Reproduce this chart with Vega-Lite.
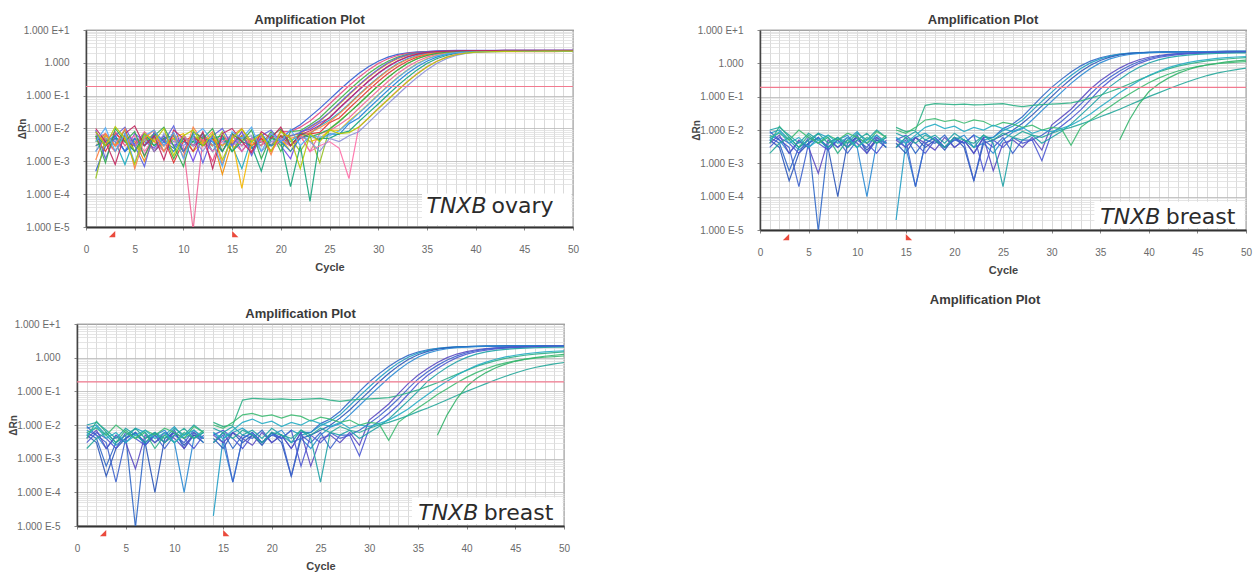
{
"$schema": "https://vega.github.io/schema/vega-lite/v6.json",
"padding": {"left": 0, "top": 13, "right": 0, "bottom": 0},
"background": "white",
"config": {
 "font": "Liberation Sans",
 "view": {"stroke": "#555", "strokeWidth": 1.2},
 "title": {"fontSize": 13, "fontWeight": "bold", "color": "#3a3a3a", "offset": -2, "frame": "group", "anchor": "middle", "font": "Liberation Sans"},
 "axis": {"labelFontSize": 10, "labelColor": "#6a6a6a", "labelFont": "Liberation Sans", "titleFont": "Liberation Sans", "titleColor": "#444", "titleFontWeight": "bold", "gridColor": "#d4d4d4", "gridWidth": 0.8, "domainColor": "#444", "domainWidth": 1.5, "tickColor": "#888", "tickSize": 3, "labelPadding": 14, "labelOverlap": false, "labelFlush": false, "labelBound": false}
},
"datasets": {
 "ovary": [
  {"s":"a1","c":[1,2,3,4,5,6,7,8,9,10,11,12,13,14,15,16,17,18,19,20,21,22,23,24,25,26,27,28,29,30,31,32,33,34,35,36,37,38,39,40,41,42,43,44,45,46,47,48,49,50],"v":[0.0005,0.003,0.006,0.002,0.0035,0.007,0.002,0.004,0.0025,0.006,0.003,0.0045,0.002,0.005,0.0035,0.006,0.0025,0.004,0.003,0.005,0.0086,0.013,0.023,0.041,0.077,0.146,0.27,0.47,0.76,1.12,1.49,1.8,2.01,2.15,2.21,2.25,2.28,2.3,2.31,2.3,2.32,2.31,2.32,2.33,2.32,2.33,2.33,2.34,2.33,2.34]},
  {"s":"a2","c":[1,2,3,4,5,6,7,8,9,10,11,12,13,14,15,16,17,18,19,20,21,22,23,24,25,26,27,28,29,30,31,32,33,34,35,36,37,38,39,40,41,42,43,44,45,46,47,48,49,50],"v":[0.006,0.004,0.008,0.003,0.005,0.0015,0.006,0.003,0.007,0.002,0.005,0.004,0.001,0.006,0.003,0.008,0.002,0.005,0.003,0.008,0.008,0.011,0.017,0.03,0.056,0.107,0.2,0.36,0.61,0.95,1.33,1.67,1.93,2.1,2.19,2.24,2.27,2.29,2.3,2.3,2.31,2.3,2.31,2.32,2.31,2.32,2.32,2.33,2.32,2.33]},
  {"s":"a3","c":[1,2,3,4,5,6,7,8,9,10,11,12,13,14,15,16,17,18,19,20,21,22,23,24,25,26,27,28,29,30,31,32,33,34,35,36,37,38,39,40,41,42,43,44,45,46,47,48,49,50],"v":[0.004,0.007,0.003,0.009,0.002,0.005,0.003,0.006,0.0012,0.005,0.004,0.007,0.003,0.005,0.002,0.006,0.004,0.003,0.008,0.002,0.008,0.0086,0.013,0.021,0.0405,0.077,0.146,0.27,0.47,0.76,1.12,1.49,1.8,2.01,2.15,2.21,2.25,2.28,2.29,2.3,2.3,2.31,2.31,2.32,2.32,2.32,2.33,2.33,2.33,2.34]},
  {"s":"a4","c":[1,2,3,4,5,6,7,8,9,10,11,12,13,14,15,16,17,18,19,20,21,22,23,24,25,26,27,28,29,30,31,32,33,34,35,36,37,38,39,40,41,42,43,44,45,46,47,48,49,50],"v":[0.003,0.005,0.002,0.006,0.004,0.001,0.005,0.003,0.007,0.002,0.006,0.003,0.005,0.0004,0.004,0.006,0.003,0.005,0.002,0.006,0.006,0.007,0.011,0.0166,0.03,0.056,0.107,0.2,0.36,0.61,0.95,1.33,1.67,1.93,2.1,2.19,2.24,2.27,2.29,2.3,2.31,2.31,2.32,2.33,2.32,2.33,2.34,2.34,2.35,2.35]},
  {"s":"a5","c":[1,2,3,4,5,6,7,8,9,10,11,12,13,14,15,16,17,18,19,20,21,22,23,24,25,26,27,28,29,30,31,32,33,34,35,36,37,38,39,40,41,42,43,44,45,46,47,48,49,50],"v":[0.008,0.003,0.005,0.002,0.007,0.004,0.0025,0.006,0.003,0.005,0.001,0.006,0.004,0.003,0.007,0.002,0.005,0.004,0.006,0.003,0.0012,0.008,0.0096,0.015,0.021,0.0405,0.077,0.146,0.27,0.47,0.76,1.12,1.49,1.8,2.01,2.15,2.21,2.25,2.28,2.29,2.3,2.3,2.31,2.31,2.32,2.32,2.33,2.33,2.33,2.34]},
  {"s":"a6","c":[1,2,3,4,5,6,7,8,9,10,11,12,13,14,15,16,17,18,19,20,21,22,23,24,25,26,27,28,29,30,31,32,33,34,35,36,37,38,39,40,41,42,43,44,45,46,47,48,49,50],"v":[0.002,0.006,0.004,0.0008,0.005,0.003,0.006,0.002,0.005,0.004,0.003,0.007,0.002,0.005,0.003,0.0006,0.005,0.004,0.003,0.006,0.004,0.007,0.007,0.012,0.018,0.03,0.056,0.107,0.2,0.36,0.61,0.95,1.33,1.67,1.93,2.1,2.19,2.24,2.27,2.29,2.3,2.3,2.31,2.32,2.32,2.33,2.33,2.34,2.34,2.34]},
  {"s":"a7","c":[1,2,3,4,5,6,7,8,9,10,11,12,13,14,15,16,17,18,19,20,21,22,23,24,25,26,27,28,29,30,31,32,33,34,35,36,37,38,39,40,41,42,43,44,45,46,47,48,49,50],"v":[0.005,0.002,0.007,0.004,0.003,0.006,0.002,0.005,0.0009,0.004,0.006,0.003,0.005,0.002,0.007,0.004,0.003,0.005,0.002,0.006,0.003,0.005,0.0069,0.0076,0.015,0.021,0.0405,0.077,0.146,0.27,0.47,0.76,1.12,1.49,1.8,2.01,2.15,2.21,2.25,2.28,2.29,2.3,2.3,2.31,2.31,2.32,2.32,2.33,2.33,2.34]},
  {"s":"a8","c":[1,2,3,4,5,6,7,8,9,10,11,12,13,14,15,16,17,18,19,20,21,22,23,24,25,26,27,28,29,30,31,32,33,34,35,36,37,38,39,40,41,42,43,44,45,46,47,48,49,50],"v":[0.0003,0.005,0.003,0.006,0.002,0.004,0.007,0.003,0.005,0.002,0.006,0.004,0.003,0.008,0.002,0.005,0.003,0.004,0.006,0.003,0.005,0.002,0.006,0.0009,0.0098,0.017,0.03,0.056,0.107,0.2,0.36,0.61,0.95,1.33,1.67,1.93,2.1,2.19,2.24,2.27,2.28,2.29,2.3,2.3,2.31,2.31,2.32,2.32,2.33,2.33]},
  {"s":"a9","c":[1,2,3,4,5,6,7,8,9,10,11,12,13,14,15,16,17,18,19,20,21,22,23,24,25,26,27,28,29,30,31,32,33,34,35,36,37,38,39,40,41,42,43,44,45,46,47,48,49,50],"v":[0.007,0.004,0.002,0.005,0.003,0.008,0.004,0.002,0.006,0.003,0.000008,0.005,0.003,0.006,0.004,0.002,0.005,0.003,0.007,0.004,0.003,0.006,0.002,0.0069,0.0086,0.013,0.021,0.0405,0.077,0.146,0.27,0.47,0.76,1.12,1.49,1.8,2.01,2.15,2.21,2.25,2.28,2.29,2.3,2.3,2.31,2.31,2.32,2.32,2.33,2.33]},
  {"s":"a10","c":[1,2,3,4,5,6,7,8,9,10,11,12,13,14,15,16,17,18,19,20,21,22,23,24,25,26,27,28,29,30,31,32,33,34,35,36,37,38,39,40,41,42,43,44,45,46,47,48,49,50],"v":[0.004,0.006,0.003,0.005,0.002,0.006,0.004,0.003,0.005,0.007,0.002,0.004,0.006,0.003,0.005,0.00015,0.004,0.006,0.003,0.005,0.002,0.006,0.004,0.005,0.009,0.0088,0.017,0.03,0.056,0.107,0.2,0.36,0.61,0.95,1.33,1.67,1.93,2.1,2.19,2.24,2.27,2.28,2.29,2.3,2.3,2.31,2.31,2.32,2.32,2.33]},
  {"s":"a11","c":[1,2,3,4,5,6,7,8,9,10,11,12,13,14,15,16,17,18,19,20,21,22,23,24,25,26,27,28,29,30,31,32,33,34,35,36,37,38,39,40,41,42,43,44,45,46,47,48,49,50],"v":[0.003,0.004,0.006,0.002,0.005,0.003,0.007,0.004,0.002,0.006,0.003,0.005,0.004,0.002,0.006,0.003,0.005,0.007,0.003,0.004,0.002,0.005,0.006,0.0045,0.0069,0.0066,0.014,0.021,0.0405,0.077,0.146,0.27,0.47,0.76,1.12,1.49,1.8,2.01,2.15,2.21,2.25,2.28,2.29,2.3,2.3,2.31,2.31,2.32,2.32,2.33]},
  {"s":"a12","c":[1,2,3,4,5,6,7,8,9,10,11,12,13,14,15,16,17,18,19,20,21,22,23,24,25,26,27,28,29,30,31,32,33,34,35,36,37,38,39,40,41,42,43,44,45,46,47,48,49,50],"v":[0.006,0.003,0.005,0.004,0.002,0.007,0.003,0.005,0.006,0.002,0.004,0.003,0.005,0.006,0.002,0.004,0.003,0.0005,0.005,0.004,0.00017,0.003,0.00006,0.005,0.005,0.007,0.0083,0.016,0.03,0.056,0.107,0.2,0.36,0.61,0.95,1.33,1.67,1.93,2.1,2.19,2.24,2.27,2.28,2.29,2.3,2.3,2.31,2.31,2.32,2.32]},
  {"s":"a13","c":[1,2,3,4,5,6,7,8,9,10,11,12,13,14,15,16,17,18,19,20,21,22,23,24,25,26,27,28,29,30,31,32,33,34,35,36,37,38,39,40,41,42,43,44,45,46,47,48,49,50],"v":[0.005,0.007,0.003,0.004,0.006,0.002,0.005,0.003,0.004,0.006,0.003,0.005,0.002,0.004,0.006,0.003,0.005,0.004,0.002,0.005,0.003,0.006,0.002,0.003,0.004,0.0025,0.0003,0.0109,0.021,0.0405,0.077,0.146,0.27,0.47,0.76,1.12,1.49,1.8,2.01,2.15,2.21,2.25,2.28,2.29,2.3,2.3,2.31,2.31,2.32,2.32]},
  {"s":"a14","c":[1,2,3,4,5,6,7,8,9,10,11,12,13,14,15,16,17,18,19,20,21,22,23,24,25,26,27,28,29,30,31,32,33,34,35,36,37,38,39,40,41,42,43,44,45,46,47,48,49,50],"v":[0.002,0.005,0.004,0.006,0.003,0.005,0.002,0.007,0.004,0.003,0.005,0.002,0.006,0.004,0.003,0.005,0.006,0.002,0.004,0.005,0.003,0.006,0.004,0.002,0.005,0.004,0.006,0.008,0.0151,0.0293,0.056,0.107,0.2,0.36,0.61,0.95,1.33,1.67,1.93,2.1,2.19,2.24,2.27,2.28,2.29,2.29,2.3,2.3,2.31,2.31]},
  {"s":"a15","c":[1,2,3,4,5,6,7,8,9,10,11,12,13,14,15,16,17,18,19,20,21,22,23,24,25,26,27,28,29,30,31,32,33,34,35,36,37,38,39,40,41,42,43,44,45,46,47,48,49,50],"v":[0.009,0.0012,0.006,0.011,0.003,0.0007,0.008,0.004,0.012,0.002,0.007,0.0009,0.006,0.01,0.003,0.008,0.0015,0.006,0.009,0.004,0.006,0.0075,0.0115,0.0175,0.031,0.059,0.112,0.21,0.38,0.64,1.0,1.4,1.75,2.03,2.2,2.3,2.35,2.38,2.4,2.41,2.42,2.42,2.43,2.43,2.44,2.44,2.44,2.45,2.45,2.45]},
  {"s":"a16","c":[1,2,3,4,5,6,7,8,9,10,11,12,13,14,15,16,17,18,19,20,21,22,23,24,25,26,27,28,29,30,31,32,33,34,35,36,37,38,39,40,41,42,43,44,45,46,47,48,49,50],"v":[0.0011,0.007,0.003,0.01,0.0006,0.005,0.009,0.002,0.007,0.0013,0.011,0.004,0.008,0.0008,0.006,0.01,0.003,0.007,0.0016,0.009,0.005,0.006,0.0075,0.0105,0.016,0.028,0.053,0.102,0.19,0.34,0.58,0.9,1.26,1.59,1.83,2.0,2.08,2.13,2.16,2.17,2.18,2.19,2.19,2.2,2.2,2.21,2.21,2.21,2.22,2.22]},
  {"s":"a17","c":[1,2,3,4,5,6,7,8,9,10,11,12,13,14,15,16,17,18,19,20,21,22,23,24,25,26,27,28,29,30,31,32,33,34,35,36,37,38,39,40,41,42,43,44,45,46,47,48,49,50],"v":[0.006,0.0009,0.01,0.004,0.008,0.0014,0.006,0.011,0.003,0.0007,0.008,0.005,0.01,0.002,0.007,0.004,0.009,0.0012,0.006,0.0095,0.003,0.007,0.0055,0.007,0.0095,0.016,0.03,0.056,0.107,0.2,0.36,0.61,0.95,1.33,1.67,1.93,2.1,2.19,2.24,2.27,2.28,2.29,2.3,2.3,2.31,2.31,2.32,2.32,2.32,2.33]},
  {"s":"a18","c":[1,2,3,4,5,6,7,8,9,10,11,12,13,14,15,16,17,18,19,20,21,22,23,24,25,26,27,28,29,30,31,32,33,34,35,36,37,38,39,40,41,42,43,44,45,46,47,48,49,50],"v":[0.01,0.004,0.0008,0.007,0.012,0.003,0.006,0.0011,0.009,0.005,0.002,0.008,0.0006,0.007,0.01,0.004,0.0018,0.008,0.005,0.011,0.003,0.0065,0.0085,0.0125,0.0216,0.042,0.079,0.15,0.28,0.48,0.78,1.15,1.53,1.85,2.07,2.21,2.28,2.32,2.35,2.36,2.37,2.37,2.38,2.38,2.39,2.39,2.4,2.4,2.4,2.41]},
  {"s":"a19","c":[1,2,3,4,5,6,7,8,9,10,11,12,13,14,15,16,17,18,19,20,21,22,23,24,25,26,27,28,29,30,31,32,33,34,35,36,37,38,39,40,41,42,43,44,45,46,47,48,49,50],"v":[0.004,0.0105,0.002,0.007,0.0009,0.006,0.009,0.003,0.0075,0.0012,0.006,0.01,0.004,0.0007,0.008,0.005,0.011,0.002,0.007,0.004,0.0095,0.003,0.006,0.0055,0.006,0.0085,0.0155,0.029,0.054,0.104,0.194,0.35,0.59,0.92,1.29,1.62,1.87,2.04,2.12,2.17,2.2,2.21,2.22,2.22,2.23,2.23,2.24,2.24,2.24,2.25]},
  {"s":"a20","c":[1,2,3,4,5,6,7,8,9,10,11,12,13,14,15,16,17,18,19,20,21,22,23,24,25,26,27,28,29,30,31,32,33,34,35,36,37,38,39,40,41,42,43,44,45,46,47,48,49,50],"v":[0.008,0.003,0.0115,0.005,0.0008,0.007,0.004,0.01,0.0015,0.006,0.009,0.003,0.007,0.0011,0.005,0.0095,0.004,0.007,0.002,0.008,0.005,0.0006,0.007,0.004,0.009,0.007,0.0075,0.011,0.0205,0.04,0.075,0.143,0.265,0.46,0.745,1.1,1.46,1.76,1.97,2.11,2.17,2.2,2.23,2.24,2.25,2.25,2.26,2.26,2.26,2.27]}
 ],
 "breast": [
  {"s":"b1","g":"b1a","c":[1,2,3,4,5,6,7,8,9,10,11,12,13],"v":[0.006,0.004,0.0006,0.003,0.005,0.000009,0.004,0.006,0.003,0.007,0.002,0.005,0.004]},
  {"s":"b1","g":"b1b","c":[14,15,16,17,18,19,20,21,22,23,24,25,26,27,28,29,30,31,32,33,34,35,36,37,38,39,40,41,42,43,44,45,46,47,48,49,50],"v":[0.003,0.006,0.002,0.005,0.004,0.007,0.003,0.005,0.002,0.006,0.006,0.011,0.0151,0.025,0.05,0.1,0.19,0.33,0.55,0.84,1.17,1.47,1.72,1.9,2.02,2.1,2.15,2.18,2.2,2.22,2.23,2.24,2.25,2.26,2.27,2.27,2.28]},
  {"s":"b2","g":"b2a","c":[1,2,3,4,5,6,7,8,9,10,11,12,13],"v":[0.008,0.01,0.005,0.0025,0.004,0.008,0.006,0.003,0.005,0.009,0.004,0.006,0.003]},
  {"s":"b2","g":"b2b","c":[14,15,16,17,18,19,20,21,22,23,24,25,26,27,28,29,30,31,32,33,34,35,36,37,38,39,40,41,42,43,44,45,46,47,48,49,50],"v":[0.00002,0.004,0.006,0.008,0.005,0.003,0.006,0.004,0.007,0.005,0.006,0.0096,0.013,0.02,0.038,0.072,0.135,0.25,0.43,0.7,1.03,1.36,1.65,1.86,2.0,2.08,2.14,2.18,2.2,2.22,2.24,2.25,2.26,2.27,2.28,2.29,2.29]},
  {"s":"b3","g":"b3a","c":[1,2,3,4,5,6,7,8,9,10,11,12,13],"v":[0.005,0.003,0.0003,0.002,0.004,0.006,0.003,0.0001,0.004,0.006,0.0025,0.005,0.003]},
  {"s":"b3","g":"b3b","c":[14,15,16,17,18,19,20,21,22,23,24,25,26,27,28,29,30,31,32,33,34,35,36,37,38,39,40,41,42,43,44,45,46,47,48,49,50],"v":[0.004,0.002,0.006,0.003,0.005,0.0025,0.006,0.003,0.0003,0.004,0.005,0.007,0.0098,0.016,0.028,0.053,0.1,0.19,0.34,0.57,0.88,1.22,1.53,1.78,1.95,2.06,2.13,2.17,2.2,2.21,2.23,2.24,2.25,2.26,2.27,2.27,2.28]},
  {"s":"b4","g":"b4a","c":[1,2,3,4,5,6,7,8,9,10,11,12,13],"v":[0.007,0.005,0.002,0.0045,0.003,0.006,0.0025,0.005,0.007,0.003,0.0001,0.004,0.006]},
  {"s":"b4","g":"b4b","c":[14,15,16,17,18,19,20,21,22,23,24,25,26,27,28,29,30,31,32,33,34,35,36,37,38,39,40,41,42,43,44,45,46,47,48,49,50],"v":[0.006,0.003,0.0002,0.004,0.006,0.003,0.005,0.007,0.003,0.004,0.002,0.005,0.0086,0.011,0.02,0.038,0.072,0.135,0.25,0.43,0.7,1.03,1.36,1.63,1.84,1.98,2.07,2.13,2.17,2.2,2.22,2.23,2.24,2.25,2.26,2.27,2.27]},
  {"s":"b5","g":"b5a","c":[1,2,3,4,5,6,7,8,9,10,11,12,13],"v":[0.004,0.007,0.002,0.005,0.003,0.0005,0.005,0.003,0.006,0.004,0.002,0.006,0.004]},
  {"s":"b5","g":"b5b","c":[14,15,16,17,18,19,20,21,22,23,24,25,26,27,28,29,30,31,32,33,34,35,36,37,38,39,40,41,42,43,44,45,46,47,48,49,50],"v":[0.005,0.003,0.006,0.004,0.0025,0.006,0.003,0.005,0.002,0.006,0.0006,0.004,0.005,0.003,0.006,0.0025,0.014,0.024,0.042,0.085,0.17,0.3,0.48,0.72,1.0,1.28,1.52,1.72,1.86,1.96,2.03,2.08,2.12,2.15,2.17,2.19,2.2]},
  {"s":"b6","g":"b6a","c":[1,2,3,4,5,6,7,8,9,10,11,12,13],"v":[0.009,0.005,0.003,0.0002,0.004,0.006,0.003,0.005,0.002,0.005,0.003,0.007,0.004]},
  {"s":"b6","g":"b6b","c":[14,15,16,17,18,19,20,21,22,23,24,25,26,27,28,29,30,31,32,33,34,35,36,37,38,39,40,41,42,43,44,45,46,47,48,49,50],"v":[0.003,0.005,0.0002,0.004,0.006,0.003,0.005,0.004,0.0003,0.005,0.003,0.006,0.002,0.005,0.005,0.007,0.011,0.018,0.032,0.06,0.12,0.23,0.38,0.59,0.85,1.13,1.4,1.62,1.79,1.91,2.0,2.06,2.1,2.14,2.16,2.18,2.19]},
  {"s":"b7","g":"b7a","c":[1,2,3,4,5,6,7,8,9,10,11,12,13],"v":[0.003,0.006,0.004,0.002,0.006,0.004,0.0025,0.005,0.003,0.006,0.004,0.002,0.005]},
  {"s":"b7","g":"b7b","c":[14,15,16,17,18,19,20,21,22,23,24,25,26,27,28,29,30,31,32,33,34,35,36,37,38,39,40,41,42,43,44,45,46,47,48,49,50],"v":[0.005,0.007,0.004,0.002,0.005,0.003,0.006,0.004,0.007,0.0006,0.005,0.003,0.006,0.004,0.005,0.0012,0.008,0.013,0.022,0.04,0.082,0.17,0.3,0.48,0.72,1.0,1.27,1.5,1.68,1.82,1.92,1.99,2.04,2.08,2.11,2.13,2.15]},
  {"s":"b8","g":"b8a","c":[1,2,3,4,5,6,7,8,9,10,11,12,13],"v":[0.01,0.012,0.007,0.004,0.008,0.005,0.003,0.006,0.004,0.008,0.005,0.01,0.006]},
  {"s":"b8","g":"b8b","c":[14,15,16,17,18,19,20,21,22,23,24,25,26,27,28,29,30,31,32,33,34,35,36,37,38,39,40,41,42,43,44,45,46,47,48,49,50],"v":[0.008,0.006,0.009,0.005,0.007,0.004,0.008,0.005,0.003,0.007,0.004,0.0002,0.006,0.005,0.007,0.004,0.006,0.009,0.015,0.028,0.052,0.1,0.2,0.33,0.52,0.76,1.02,1.27,1.48,1.64,1.76,1.85,1.92,1.97,2.01,2.04,2.06]},
  {"s":"b9","g":"b9a","c":[1,2,3,4,5,6,7,8,9,10,11,12,13],"v":[0.004,0.013,0.006,0.003,0.007,0.004,0.006,0.002,0.005,0.003,0.006,0.004,0.007]},
  {"s":"b9","g":"b9b","c":[14,15,16,17,18,19,20,21,22,23,24,25,26,27,28,29,30,31,32,33,34,35,36,37,38,39,40,41,42,43,44,45,46,47,48,49,50],"v":[0.012,0.009,0.01,0.055,0.062,0.06,0.058,0.06,0.057,0.058,0.06,0.062,0.055,0.05,0.055,0.058,0.06,0.062,0.065,0.075,0.09,0.11,0.14,0.18,0.24,0.32,0.42,0.55,0.68,0.82,0.95,1.07,1.18,1.27,1.35,1.42,1.48]},
  {"s":"b10","g":"b10a","c":[1,2,3,4,5,6,7,8,9,10,11,12,13],"v":[0.006,0.008,0.005,0.01,0.006,0.004,0.007,0.005,0.008,0.006,0.004,0.009,0.006]},
  {"s":"b10","g":"b10b","c":[14,15,16,17,18,19,20,21,22,23,24,25,26,27,28,29,30,31,32,33,34,35,36,37,38,39,40,41,42,43,44,45,46,47,48,49,50],"v":[0.01,0.008,0.012,0.02,0.022,0.018,0.02,0.016,0.02,0.018,0.013,0.017,0.015,0.012,0.014,0.01,0.012,0.011,0.0035,0.012,0.02,0.032,0.05,0.08,0.12,0.18,0.26,0.36,0.47,0.59,0.7,0.8,0.89,0.97,1.03,1.08,1.12]},
  {"s":"b11","g":"b11a","c":[1,2,3,4,5,6,7,8,9,10,11,12,13],"v":[0.002,0.004,0.006,0.003,0.005,0.008,0.004,0.006,0.003,0.005,0.008,0.004,0.006]},
  {"s":"b11","g":"b11b","c":[14,15,16,17,18,19,20,21,22,23,24,25,26,27,28,29,30,31,32,33,34,35,36,37,38,39,40,41,42,43,44,45,46,47,48,49,50],"v":[0.003,0.006,0.004,0.007,0.005,0.003,0.006,0.005,0.004,0.007,0.005,0.008,0.006,0.009,0.007,0.006,0.008,0.01,0.012,0.015,0.019,0.025,0.032,0.042,0.056,0.075,0.1,0.13,0.17,0.22,0.28,0.35,0.43,0.51,0.58,0.65,0.72]},
  {"s":"b12","g":"b12b","c":[37,38,39,40,41,42,43,44,45,46,47,48,49,50],"v":[0.005,0.02,0.06,0.14,0.24,0.36,0.5,0.64,0.78,0.9,1.0,1.1,1.18,1.25]},
  {"s":"b13","g":"b13a","c":[1,2,3,4,5,6,7,8,9,10,11,12,13],"v":[0.005,0.009,0.004,0.006,0.003,0.005,0.007,0.004,0.006,0.003,0.005,0.007,0.004]},
  {"s":"b13","g":"b13b","c":[14,15,16,17,18,19,20,21,22,23,24,25,26,27,28,29,30,31,32,33,34,35,36,37,38,39,40,41,42,43,44,45,46,47,48,49,50],"v":[0.006,0.004,0.007,0.012,0.015,0.011,0.013,0.009,0.012,0.01,0.014,0.011,0.009,0.012,0.008,0.01,0.009,0.011,0.014,0.02,0.03,0.05,0.08,0.13,0.2,0.3,0.43,0.58,0.74,0.9,1.05,1.18,1.3,1.4,1.48,1.55,1.6]}
 ],
 "baseline": [{"c": 3, "m": "start"}, {"c": 15, "m": "end"}]
},
"spacing": 18,
"vconcat": [
 {"spacing": 110, "hconcat": [
  {"spacing": 0, "hconcat": [
   {"width": 13, "height": 10, "data": {"values": [{}]}, "mark": {"type": "point", "opacity": 0}, "view": {"stroke": null}},
   {"width": 487, "height": 197, "title": {"text": "Amplification Plot", "dx": -20},
    "resolve": {"axis": {"x": "independent"}},
    "layer": [
     {"data": {"name": "ovary"}, "transform": [{"flatten": ["c", "v"]}],
      "mark": {"type": "line", "strokeWidth": 1.2, "clip": true, "opacity": 0.9},
      "encoding": {
       "x": {"field": "c", "type": "quantitative", "scale": {"domain": [0, 50], "nice": false, "zero": false},
        "axis": {"values": [0,5,10,15,20,25,30,35,40,45,50], "orient": "bottom", "labelOverlap": false, "title": "Cycle", "titleFontSize": 11, "titlePadding": 7, "grid": false, "domainWidth": 2, "domainColor": "#333"}},
       "y": {"field": "v", "type": "quantitative", "scale": {"type": "log", "domain": [0.00001, 10], "nice": false},
        "axis": {"values": [0.00001,0.00002,0.00003,0.00004,0.00005,0.00006,0.00007,0.00008,0.00009,0.0001,0.0002,0.0003,0.0004,0.0005,0.0006,0.0007,0.0008,0.0009,0.001,0.002,0.003,0.004,0.005,0.006,0.007,0.008,0.009,0.01,0.02,0.03,0.04,0.05,0.06,0.07,0.08,0.09,0.1,0.2,0.3,0.4,0.5,0.6,0.7,0.8,0.9,1,2,3,4,5,6,7,8,9,10], "labelExpr": "abs(log(datum.value)/LN10 - round(log(datum.value)/LN10)) > 0.001 ? '' : round(log(datum.value)/LN10) === 0 ? '1.000' : '1.000 E' + (round(log(datum.value)/LN10) > 0 ? '+' : '') + round(log(datum.value)/LN10)", "labelOverlap": false, "title": "ΔRn", "titleFontSize": 10, "titlePadding": -4, "grid": true, "gridColor": {"condition": {"test": "abs(log(datum.value)/LN10 - round(log(datum.value)/LN10)) < 0.001", "value": "#b8b8b8"}, "value": "#dedede"}, "tickOpacity": {"condition": {"test": "abs(log(datum.value)/LN10 - round(log(datum.value)/LN10)) < 0.001", "value": 1}, "value": 0}}},
       "color": {"field": "s", "type": "nominal", "legend": null, "scale": {"domain": ["a1","a2","a3","a4","a5","a6","a7","a8","a9","a10","a11","a12","a13","a14","a15","a16","a17","a18","a19","a20","b1","b2","b3","b4","b5","b6","b7","b8","b9","b10","b11","b12","b13"], "range": ["#2f5bd3","#e8457f","#3cb043","#f08c00","#7048e8","#15aabf","#e03131","#94c11f","#f06595","#f5b700","#1c7ed6","#12a37a","#ff6ba6","#8a8fd8","#5c5fe0","#ff7f3f","#2fa84f","#c2255c","#4dabf7","#b5c900","#2f67c6","#1f9cc4","#2b55b8","#2a8ad4","#5a4ac2","#3d63cc","#4b56d2","#1fa2a6","#2eb086","#3dba72","#25a79a","#33b36a","#27adc4"]}}
      }},
     {"data": {"values": [{}]}, "mark": {"type": "rule", "color": "#f27a8f", "strokeWidth": 1.2}, "encoding": {"y": {"datum": 0.19}}},
     {"data": {"values": [{}]}, "mark": {"type": "rect", "fill": "white"}, "encoding": {"x": {"datum": 34.5, "axis": null}, "x2": {"datum": 49.85}, "y": {"datum": 0.0000115}, "y2": {"datum": 0.000105}}},
     {"data": {"values": [{"t": "TNXB"}]}, "mark": {"type": "text", "align": "right", "baseline": "alphabetic", "font": "DejaVu Sans", "fontSize": 22, "fontStyle": "italic", "color": "#2b2b2b", "dx": -67}, "encoding": {"x": {"datum": 48, "axis": null}, "y": {"datum": 0.000026}, "text": {"field": "t"}}},
     {"data": {"values": [{"t": "ovary"}]}, "mark": {"type": "text", "align": "right", "baseline": "alphabetic", "font": "DejaVu Sans", "fontSize": 22, "color": "#2b2b2b"}, "encoding": {"x": {"datum": 48, "axis": null}, "y": {"datum": 0.000026}, "text": {"field": "t"}}},
     {"data": {"name": "baseline"}, "mark": {"type": "point", "filled": true, "size": 160, "color": "#ea4a3c", "opacity": 1, "strokeWidth": 0, "yOffset": 4}, "encoding": {"x": {"field": "c", "type": "quantitative", "axis": {"values": [0,1,2,3,4,5,6,7,8,9,10,11,12,13,14,15,16,17,18,19,20,21,22,23,24,25,26,27,28,29,30,31,32,33,34,35,36,37,38,39,40,41,42,43,44,45,46,47,48,49,50], "orient": "bottom", "grid": true, "gridColor": "#d0d0d0", "labels": false, "ticks": false, "domain": false, "title": null}}, "y": {"datum": 0.00001}, "shape": {"field": "m", "type": "nominal", "legend": null, "scale": {"domain": ["start", "end"], "range": ["M0,0L0,1L-1,1Z", "M0,0L0,1L1,1Z"]}}}}
    ]}
  ]},
  {"width": 486, "height": 200, "title": {"text": "Amplification Plot", "dx": -20},
   "resolve": {"axis": {"x": "independent"}},
   "layer": [
    {"data": {"name": "breast"}, "transform": [{"flatten": ["c", "v"]}],
     "mark": {"type": "line", "strokeWidth": 1.2, "clip": true, "opacity": 0.9},
     "encoding": {
      "x": {"field": "c", "type": "quantitative", "scale": {"domain": [0, 50], "nice": false, "zero": false},
       "axis": {"values": [0,5,10,15,20,25,30,35,40,45,50], "orient": "bottom", "labelOverlap": false, "title": "Cycle", "titleFontSize": 11, "titlePadding": 7, "grid": false, "domainWidth": 2, "domainColor": "#333"}},
      "y": {"field": "v", "type": "quantitative", "scale": {"type": "log", "domain": [0.00001, 10], "nice": false},
       "axis": {"values": [0.00001,0.00002,0.00003,0.00004,0.00005,0.00006,0.00007,0.00008,0.00009,0.0001,0.0002,0.0003,0.0004,0.0005,0.0006,0.0007,0.0008,0.0009,0.001,0.002,0.003,0.004,0.005,0.006,0.007,0.008,0.009,0.01,0.02,0.03,0.04,0.05,0.06,0.07,0.08,0.09,0.1,0.2,0.3,0.4,0.5,0.6,0.7,0.8,0.9,1,2,3,4,5,6,7,8,9,10], "labelExpr": "abs(log(datum.value)/LN10 - round(log(datum.value)/LN10)) > 0.001 ? '' : round(log(datum.value)/LN10) === 0 ? '1.000' : '1.000 E' + (round(log(datum.value)/LN10) > 0 ? '+' : '') + round(log(datum.value)/LN10)", "labelOverlap": false, "title": "ΔRn", "titleFontSize": 10, "titlePadding": -4, "grid": true, "gridColor": {"condition": {"test": "abs(log(datum.value)/LN10 - round(log(datum.value)/LN10)) < 0.001", "value": "#b8b8b8"}, "value": "#dedede"}, "tickOpacity": {"condition": {"test": "abs(log(datum.value)/LN10 - round(log(datum.value)/LN10)) < 0.001", "value": 1}, "value": 0}}},
      "color": {"field": "s", "type": "nominal", "legend": null, "scale": {"domain": ["a1","a2","a3","a4","a5","a6","a7","a8","a9","a10","a11","a12","a13","a14","a15","a16","a17","a18","a19","a20","b1","b2","b3","b4","b5","b6","b7","b8","b9","b10","b11","b12","b13"], "range": ["#2f5bd3","#e8457f","#3cb043","#f08c00","#7048e8","#15aabf","#e03131","#94c11f","#f06595","#f5b700","#1c7ed6","#12a37a","#ff6ba6","#8a8fd8","#5c5fe0","#ff7f3f","#2fa84f","#c2255c","#4dabf7","#b5c900","#2f67c6","#1f9cc4","#2b55b8","#2a8ad4","#5a4ac2","#3d63cc","#4b56d2","#1fa2a6","#2eb086","#3dba72","#25a79a","#33b36a","#27adc4"]}},
      "detail": {"field": "g"}
     }},
    {"data": {"values": [{}]}, "mark": {"type": "rule", "color": "#f27a8f", "strokeWidth": 1.2}, "encoding": {"y": {"datum": 0.19}}},
    {"data": {"values": [{}]}, "mark": {"type": "rect", "fill": "white"}, "encoding": {"x": {"datum": 34.4, "axis": null}, "x2": {"datum": 49.85}, "y": {"datum": 0.0000115}, "y2": {"datum": 0.00007}}},
    {"data": {"values": [{"t": "TNXB"}]}, "mark": {"type": "text", "align": "right", "baseline": "alphabetic", "font": "DejaVu Sans", "fontSize": 22, "fontStyle": "italic", "color": "#2b2b2b", "dx": -75}, "encoding": {"x": {"datum": 48.9, "axis": null}, "y": {"datum": 0.000015}, "text": {"field": "t"}}},
    {"data": {"values": [{"t": "breast"}]}, "mark": {"type": "text", "align": "right", "baseline": "alphabetic", "font": "DejaVu Sans", "fontSize": 22, "color": "#2b2b2b"}, "encoding": {"x": {"datum": 48.9, "axis": null}, "y": {"datum": 0.000015}, "text": {"field": "t"}}},
    {"data": {"name": "baseline"}, "mark": {"type": "point", "filled": true, "size": 160, "color": "#ea4a3c", "opacity": 1, "strokeWidth": 0, "yOffset": 4}, "encoding": {"x": {"field": "c", "type": "quantitative", "axis": {"values": [0,1,2,3,4,5,6,7,8,9,10,11,12,13,14,15,16,17,18,19,20,21,22,23,24,25,26,27,28,29,30,31,32,33,34,35,36,37,38,39,40,41,42,43,44,45,46,47,48,49,50], "orient": "bottom", "grid": true, "gridColor": "#d0d0d0", "labels": false, "ticks": false, "domain": false, "title": null}}, "y": {"datum": 0.00001}, "shape": {"field": "m", "type": "nominal", "legend": null, "scale": {"domain": ["start", "end"], "range": ["M0,0L0,1L-1,1Z", "M0,0L0,1L1,1Z"]}}}}
   ]}
 ]},
 {"spacing": 314, "hconcat": [
  {"spacing": 0, "hconcat": [
   {"width": 1, "height": 10, "data": {"values": [{}]}, "mark": {"type": "point", "opacity": 0}, "view": {"stroke": null}},
   {"width": 487, "height": 202, "title": {"text": "Amplification Plot", "dx": -20},
    "resolve": {"axis": {"x": "independent"}},
    "layer": [
     {"data": {"name": "breast"}, "transform": [{"flatten": ["c", "v"]}],
      "mark": {"type": "line", "strokeWidth": 1.2, "clip": true, "opacity": 0.9},
      "encoding": {
       "x": {"field": "c", "type": "quantitative", "scale": {"domain": [0, 50], "nice": false, "zero": false},
        "axis": {"values": [0,5,10,15,20,25,30,35,40,45,50], "orient": "bottom", "labelOverlap": false, "title": "Cycle", "titleFontSize": 11, "titlePadding": 7, "grid": false, "domainWidth": 2, "domainColor": "#333"}},
       "y": {"field": "v", "type": "quantitative", "scale": {"type": "log", "domain": [0.00001, 10], "nice": false},
        "axis": {"values": [0.00001,0.00002,0.00003,0.00004,0.00005,0.00006,0.00007,0.00008,0.00009,0.0001,0.0002,0.0003,0.0004,0.0005,0.0006,0.0007,0.0008,0.0009,0.001,0.002,0.003,0.004,0.005,0.006,0.007,0.008,0.009,0.01,0.02,0.03,0.04,0.05,0.06,0.07,0.08,0.09,0.1,0.2,0.3,0.4,0.5,0.6,0.7,0.8,0.9,1,2,3,4,5,6,7,8,9,10], "labelExpr": "abs(log(datum.value)/LN10 - round(log(datum.value)/LN10)) > 0.001 ? '' : round(log(datum.value)/LN10) === 0 ? '1.000' : '1.000 E' + (round(log(datum.value)/LN10) > 0 ? '+' : '') + round(log(datum.value)/LN10)", "labelOverlap": false, "title": "ΔRn", "titleFontSize": 10, "titlePadding": -4, "grid": true, "gridColor": {"condition": {"test": "abs(log(datum.value)/LN10 - round(log(datum.value)/LN10)) < 0.001", "value": "#b8b8b8"}, "value": "#dedede"}, "tickOpacity": {"condition": {"test": "abs(log(datum.value)/LN10 - round(log(datum.value)/LN10)) < 0.001", "value": 1}, "value": 0}}},
       "color": {"field": "s", "type": "nominal", "legend": null, "scale": {"domain": ["a1","a2","a3","a4","a5","a6","a7","a8","a9","a10","a11","a12","a13","a14","a15","a16","a17","a18","a19","a20","b1","b2","b3","b4","b5","b6","b7","b8","b9","b10","b11","b12","b13"], "range": ["#2f5bd3","#e8457f","#3cb043","#f08c00","#7048e8","#15aabf","#e03131","#94c11f","#f06595","#f5b700","#1c7ed6","#12a37a","#ff6ba6","#8a8fd8","#5c5fe0","#ff7f3f","#2fa84f","#c2255c","#4dabf7","#b5c900","#2f67c6","#1f9cc4","#2b55b8","#2a8ad4","#5a4ac2","#3d63cc","#4b56d2","#1fa2a6","#2eb086","#3dba72","#25a79a","#33b36a","#27adc4"]}},
       "detail": {"field": "g"}
      }},
     {"data": {"values": [{}]}, "mark": {"type": "rule", "color": "#f27a8f", "strokeWidth": 1.2}, "encoding": {"y": {"datum": 0.19}}},
     {"data": {"values": [{}]}, "mark": {"type": "rect", "fill": "white"}, "encoding": {"x": {"datum": 34.4, "axis": null}, "x2": {"datum": 49.85}, "y": {"datum": 0.0000115}, "y2": {"datum": 0.00007}}},
     {"data": {"values": [{"t": "TNXB"}]}, "mark": {"type": "text", "align": "right", "baseline": "alphabetic", "font": "DejaVu Sans", "fontSize": 22, "fontStyle": "italic", "color": "#2b2b2b", "dx": -75}, "encoding": {"x": {"datum": 48.9, "axis": null}, "y": {"datum": 0.000015}, "text": {"field": "t"}}},
     {"data": {"values": [{"t": "breast"}]}, "mark": {"type": "text", "align": "right", "baseline": "alphabetic", "font": "DejaVu Sans", "fontSize": 22, "color": "#2b2b2b"}, "encoding": {"x": {"datum": 48.9, "axis": null}, "y": {"datum": 0.000015}, "text": {"field": "t"}}},
     {"data": {"name": "baseline"}, "mark": {"type": "point", "filled": true, "size": 160, "color": "#ea4a3c", "opacity": 1, "strokeWidth": 0, "yOffset": 4}, "encoding": {"x": {"field": "c", "type": "quantitative", "axis": {"values": [0,1,2,3,4,5,6,7,8,9,10,11,12,13,14,15,16,17,18,19,20,21,22,23,24,25,26,27,28,29,30,31,32,33,34,35,36,37,38,39,40,41,42,43,44,45,46,47,48,49,50], "orient": "bottom", "grid": true, "gridColor": "#d0d0d0", "labels": false, "ticks": false, "domain": false, "title": null}}, "y": {"datum": 0.00001}, "shape": {"field": "m", "type": "nominal", "legend": null, "scale": {"domain": ["start", "end"], "range": ["M0,0L0,1L-1,1Z", "M0,0L0,1L1,1Z"]}}}}
    ]}
  ]},
  {"width": 200, "height": 10, "title": {"text": "Amplification Plot", "offset": 17}, "data": {"values": [{}]}, "mark": {"type": "point", "opacity": 0}, "view": {"stroke": null}}
 ]}
]
}
